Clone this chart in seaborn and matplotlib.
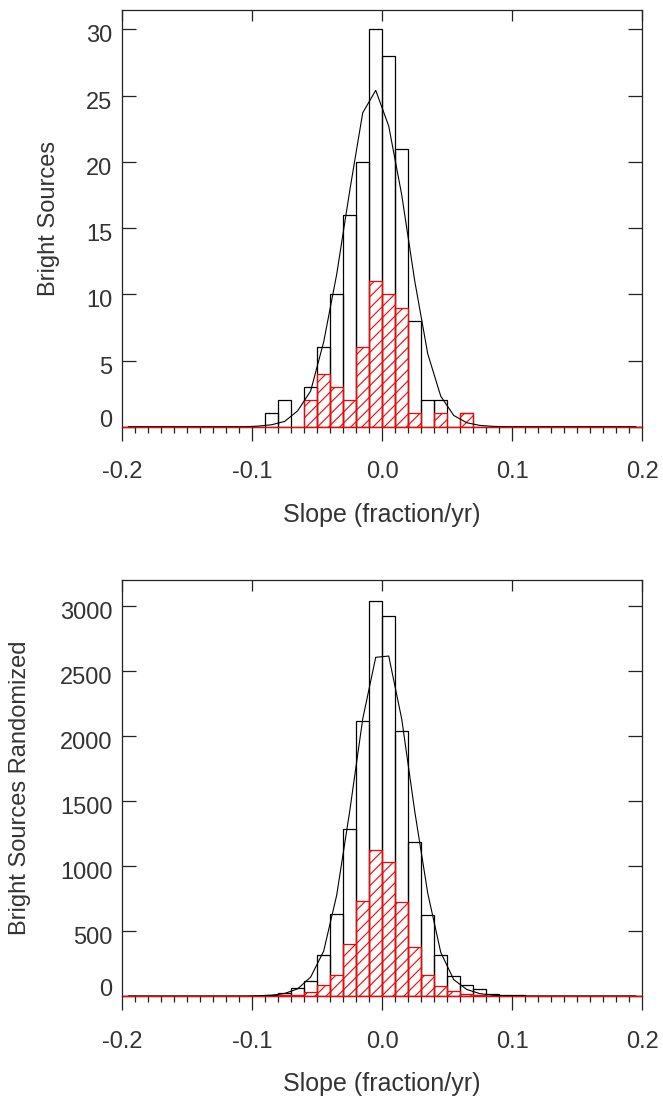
import numpy as np
import pandas as pd
import matplotlib
matplotlib.use("Agg")
import matplotlib.pyplot as plt
import matplotlib.transforms as mtransforms
import seaborn as sns

# histogram bins: 40 bins of 0.01 from -0.2 to 0.2
bin_edges = [round(v, 3) for v in np.linspace(-0.2, 0.2, 41)]
bin_centers = [round(v + 0.005, 4) for v in bin_edges[:-1]]

# top panel: bright sources
top_all = [0, 0, 0, 0, 0, 0, 0, 0, 0, 0,
           0, 1, 2, 0, 3, 6, 10, 16, 20, 30,
           28, 21, 8, 2, 2, 0, 1, 0, 0, 0,
           0, 0, 0, 0, 0, 0, 0, 0, 0, 0]
top_red = [0, 0, 0, 0, 0, 0, 0, 0, 0, 0,
           0, 0, 0, 0, 2, 4, 3, 2, 6, 11,
           10, 9, 1, 0, 1, 0, 1, 0, 0, 0,
           0, 0, 0, 0, 0, 0, 0, 0, 0, 0]
top_fit = [0, 0, 0, 0, 0, 0, 0, 0, 0, 0,
           0.05, 0.15, 0.4, 1.2, 2.7, 6.4, 11.5, 17.8, 23.7, 25.4,
           22.7, 17.5, 11.0, 5.5, 2.3, 0.85, 0.3, 0.1, 0.03, 0,
           0, 0, 0, 0, 0, 0, 0, 0, 0, 0]

# bottom panel: randomized
bot_all = [0, 0, 0, 0, 0, 0, 0, 0, 0, 0,
           3, 6, 20, 62, 118, 314, 627, 1281, 2112, 3040,
           2926, 2042, 1182, 620, 313, 154, 87, 50, 16, 8,
           4, 0, 0, 0, 0, 0, 0, 0, 0, 0]
bot_red = [0, 0, 0, 0, 0, 0, 0, 0, 0, 0,
           0, 2, 4, 10, 32, 82, 165, 396, 730, 1120,
           1032, 726, 374, 161, 73, 39, 14, 6, 3, 0,
           0, 0, 0, 0, 0, 0, 0, 0, 0, 0]
bot_fit = [0, 0, 0, 0, 0, 0, 0, 0, 0, 0,
           2, 6, 19, 55, 145, 345, 775, 1420, 2130, 2605,
           2615, 2130, 1420, 790, 335, 125, 50, 18, 6, 2,
           0, 0, 0, 0, 0, 0, 0, 0, 0, 0]

x_ticks = [-0.2, -0.1, 0.0, 0.1, 0.2]
x_ticklabels = ["-0.2", "-0.1", "0.0", "0.1", "0.2"]
top_yticks = [0, 5, 10, 15, 20, 25, 30]
bot_yticks = [0, 500, 1000, 1500, 2000, 2500, 3000]

sns.set_style("white")
plt.rcParams['font.family'] = ['Liberation Sans', 'DejaVu Sans']
plt.rcParams['hatch.color'] = 'red'
plt.rcParams['hatch.linewidth'] = 0.8

text_col = '#333333'
tick_fs = 17
label_fs = 18
fig = plt.figure(figsize=(6.63, 10.97), dpi=100)
ax1 = fig.add_axes([0.184, 0.611, 0.785, 0.3803])
ax2 = fig.add_axes([0.184, 0.0921, 0.785, 0.3792])


def draw_panel(ax, counts, red, fit, yticks, ymax, ylabel, ylab_x):
    df = pd.DataFrame({'slope': bin_centers, 'n': counts, 'n_red': red,
                       'fit': fit})
    sns.histplot(data=df, x='slope', weights='n', bins=bin_edges, fill=False,
                 color='black', linewidth=0.9, ax=ax, zorder=2)
    sns.histplot(data=df, x='slope', weights='n_red', bins=bin_edges,
                 fill=False, color='red', hatch='///', linewidth=0.9, ax=ax,
                 zorder=3, clip_on=False)
    sns.lineplot(data=df, x='slope', y='fit', color='black', linewidth=0.8,
                 ax=ax, zorder=4)
    ax.set_xlim(-0.2, 0.2)
    ax.set_ylim(0, ymax)

    for sp in ax.spines.values():
        sp.set_color('#222222')
        sp.set_linewidth(0.9)
        sp.set_visible(True)

    # bottom ticks: outward, majors + minors
    ax.set_xticks(x_ticks)
    ax.set_xticklabels(x_ticklabels)
    ax.set_xticks(bin_edges, minor=True)
    ax.tick_params(axis='x', which='major', direction='out', length=10,
                   width=0.9, color='#222222', pad=15, labelsize=tick_fs,
                   labelcolor=text_col, bottom=True, top=False)
    ax.tick_params(axis='x', which='minor', direction='out', length=4,
                   width=0.9, color='#222222', bottom=True, top=False)
    # top ticks: inward majors only
    sec = ax.secondary_xaxis('top')
    sec.set_xticks(x_ticks)
    sec.tick_params(axis='x', direction='in', length=8, width=0.9,
                    color='#222222', labeltop=False)
    sec.spines['top'].set_visible(False)

    ax.set_yticks(yticks)
    ax.set_yticklabels([str(v) for v in yticks])
    ax.tick_params(axis='y', direction='in', length=10, width=0.9,
                   color='#222222', left=True, right=True, pad=7,
                   labelsize=tick_fs, labelcolor=text_col)
    for lab in ax.get_yticklabels():
        dy = 8 if lab.get_text() == "0" else -4.5
        lab.set_transform(lab.get_transform() +
                          mtransforms.ScaledTranslation(0, dy / 100,
                                                        fig.dpi_scale_trans))

    ax.set_xlabel("Slope (fraction/yr)", fontsize=label_fs, color=text_col,
                  labelpad=14)
    ax.set_ylabel(ylabel, fontsize=tick_fs, color=text_col)
    ax.yaxis.set_label_coords(ylab_x, 0.5)


draw_panel(ax1, top_all, top_red, top_fit, top_yticks, 31.5,
           "Bright Sources", -0.119)
draw_panel(ax2, bot_all, bot_red, bot_fit, bot_yticks, 3200,
           "Bright Sources Randomized", -0.1745)

fig.savefig("out.png", dpi=100)
